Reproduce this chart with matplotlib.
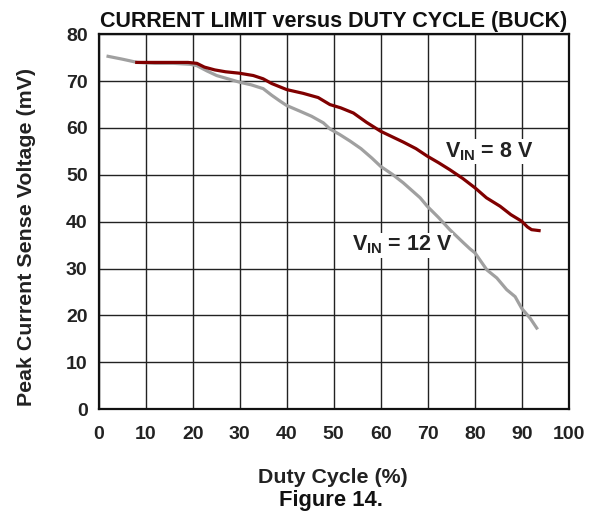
import numpy as np
import matplotlib.pyplot as plt

plt.rcParams['font.family'] = ['Liberation Sans', 'DejaVu Sans']
plt.rcParams['font.weight'] = 'bold'
plt.rcParams['mathtext.fontset'] = 'custom'
plt.rcParams['mathtext.rm'] = 'Liberation Sans:bold'
plt.rcParams['mathtext.it'] = 'Liberation Sans:bold'
plt.rcParams['mathtext.bf'] = 'Liberation Sans:bold'

# VIN = 8 V curve (duty %, mV)
duty_8v = [8.1, 12, 16, 19, 20.9, 22.5, 24.7, 27, 29.9, 32.9, 35, 36.8, 40, 43.5,
           46.7, 49.2, 51.5, 54.2, 57, 60, 62.5, 64.8, 67.5, 69.9, 72.3, 74.7,
           77.5, 80.1, 82.5, 85.4, 87.7, 90, 91.2, 92.1, 93.7]
mv_8v = [74.0, 74.0, 74.0, 74.0, 73.8, 73.0, 72.4, 72.0, 71.7, 71.2, 70.5, 69.5,
         68.2, 67.4, 66.5, 65.0, 64.3, 63.2, 61.2, 59.3, 58.1, 57.0, 55.6, 54.0,
         52.6, 51.1, 49.2, 47.2, 45.1, 43.3, 41.5, 40.1, 38.9, 38.3, 38.1]

# VIN = 12 V curve
duty_12v = [2.0, 5, 8.2, 12, 16, 19.5, 20.9, 23, 25.1, 27.5, 29.9, 32.5, 35, 36.8,
            38.5, 40, 42.8, 45.3, 47.8, 49.2, 51.3, 53.5, 55.8, 58.1, 60, 62.5,
            64.8, 66.6, 68.4, 69.9, 72.3, 74.7, 77.5, 79, 80.1, 82.6, 84.7, 86.8,
            88.6, 90, 91.8, 93.2]
mv_12v = [75.3, 74.7, 74.0, 73.8, 73.8, 73.6, 73.3, 72.2, 71.2, 70.5, 69.8, 69.2,
          68.4, 67.0, 65.8, 64.8, 63.6, 62.5, 61.1, 59.8, 58.6, 57.2, 55.6, 53.6,
          51.8, 50.1, 48.3, 46.7, 45.1, 43.3, 40.9, 38.3, 35.6, 34.2, 33.3, 29.7,
          28.0, 25.5, 24.0, 21.5, 19.4, 17.3]

xticks = np.arange(0, 101, 10)
yticks = np.arange(0, 81, 10)

fig = plt.figure(figsize=(5.98, 5.12), dpi=100)
ax = fig.add_axes([0.165, 0.201, 0.786, 0.732])

ax.plot(duty_12v, mv_12v, color='#a0a0a0', lw=2.3, zorder=3)
ax.plot(duty_8v, mv_8v, color='#800000', lw=2.3, zorder=4)

ax.set_xlim(0, 100)
ax.set_ylim(0, 80)
ax.set_xticks(xticks)
ax.set_yticks(yticks)
ax.tick_params(length=0, labelsize=14, colors='#222222')
ax.tick_params(axis='x', pad=12)
ax.tick_params(axis='y', pad=8)
ax.grid(True, color='#222222', lw=1.0)
ax.set_axisbelow(True)
for s in ax.spines.values():
    s.set_linewidth(1.6)
    s.set_color('#111111')

# curve labels
ax.text(73.7, 55, r'$V_{IN}$ = 8 V', fontsize=15.5, fontweight='bold', va='center',
        ha='left', zorder=5, color='#222222',
        bbox=dict(facecolor='white', edgecolor='none', pad=1))
ax.text(53.8, 35, r'$V_{IN}$ = 12 V', fontsize=15.5, fontweight='bold', va='center',
        ha='left', zorder=5, color='#222222',
        bbox=dict(facecolor='white', edgecolor='none', pad=1))

ax.set_title('CURRENT LIMIT versus DUTY CYCLE (BUCK)', fontsize=15.5, fontweight='bold',
             pad=5, color='#111111')
fig.text(0.557, 0.0566, 'Duty Cycle (%)', fontsize=15.4, fontweight='bold',
         ha='center', va='baseline', color='#222222')
fig.text(0.045, 0.537, 'Peak Current Sense Voltage (mV)', fontsize=15.4, fontweight='bold',
         ha='center', va='center', rotation=90, color='#222222')
fig.text(0.554, 0.012, 'Figure 14.', fontsize=15.8, fontweight='bold',
         ha='center', va='baseline', color='#111111')

fig.savefig('out.png', dpi=100)
